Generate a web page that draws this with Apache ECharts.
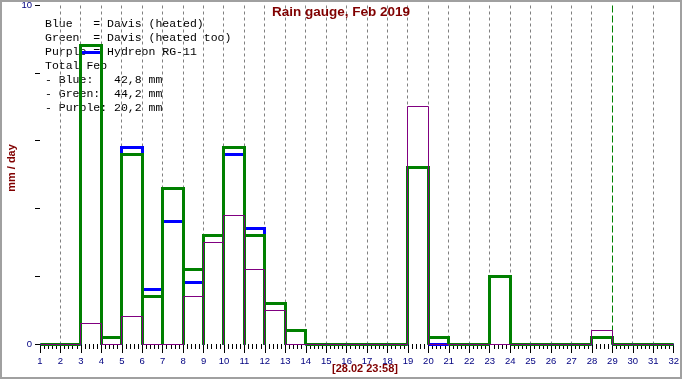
<!DOCTYPE html>
<html>
<head>
<meta charset="utf-8">
<script src="https://cdn.jsdelivr.net/npm/echarts@6/dist/echarts.min.js"></script>
<style>
html,body{margin:0;padding:0;background:#fff;}
#c{width:682px;height:380px;}
</style>
</head>
<body>
<div id="c"></div>
<script>
// ---- data ----
const days = [1,2,3,4,5,6,7,8,9,10,11,12,13,14,15,16,17,18,19,20,21,22,23,24,25,26,27,28,29,30,31];
const blue   = [0,0,8.6,0.2,5.8,1.6,3.6,1.8,3.2,5.6,3.4,1.2,0.4,0,0,0,0,0,5.2,0,0,0,2.0,0,0,0,0,0.2,0,0,0];
const green  = [0,0,8.8,0.2,5.6,1.4,4.6,2.2,3.2,5.8,3.2,1.2,0.4,0,0,0,0,0,5.2,0.2,0,0,2.0,0,0,0,0,0.2,0,0,0];
const purple = [0,0,0.6,0,0.8,0,0,1.4,3.0,3.8,2.2,1.0,0,0,0,0,0,0,7.0,0,0,0,0,0,0,0,0,0.4,0,0,0];
const gridDays = [2,3,4,5,6,7,8,9,10,11,12,13,14,15,16,17,18,19,20,21,22,23,24,25,26,27,28,30,31];
const nowDay = [29];
const yTickLabels = [0, 10];
const titleText = 'Rain gauge, Feb 2019';
const yName = 'mm / day';
const timeLabel = '[28.02 23:58]';
const infoLines = [
  'Blue   = Davis (heated)',
  'Green  = Davis (heated too)',
  'Purple = Hydreon RG-11',
  'Total Feb',
  '- Blue:   42,8 mm',
  '- Green:  44,2 mm',
  '- Purple: 20,2 mm'
];

const chart = echarts.init(document.getElementById('c'), null, {renderer:'canvas'});

function crisp(p, w) {
  const off = (w % 2 === 1) ? 0.5 : 0;
  return [Math.round(p[0] - off) + off, Math.round(p[1] - off) + off];
}

function barSeries(name, values, color, width) {
  return {
    type: 'custom',
    name: name,
    data: days.map((d, i) => [d, values[i]]),
    encode: {x: 0, y: 1},
    clip: false,
    silent: true,
    renderItem: function (params, api) {
      const x0 = api.value(0), v = api.value(1);
      const bl = crisp(api.coord([x0, 0]), width), tl = crisp(api.coord([x0, v]), width);
      const tr = crisp(api.coord([x0 + 1, v]), width), br = crisp(api.coord([x0 + 1, 0]), width);
      const pts = v > 0 ? [bl, tl, tr, br] : [tl, tr];
      return {
        type: 'polyline',
        shape: {points: pts},
        style: {stroke: color, lineWidth: width, fill: null}
      };
    }
  };
}

function vLineSeries(name, list, color, dash) {
  return {
    type: 'custom',
    name: name,
    data: list.map(d => [d, 10]),
    encode: {x: 0, y: 1},
    clip: false,
    silent: true,
    renderItem: function (params, api) {
      const d = api.value(0);
      const top = crisp(api.coord([d, api.value(1)]), 1);
      const bot = crisp(api.coord([d, 0]), 1);
      return {
        type: 'line',
        shape: {x1: top[0], y1: top[1], x2: bot[0], y2: bot[1]},
        style: {stroke: color, lineWidth: 1, lineDash: dash}
      };
    }
  };
}

const sans = "'Liberation Sans',Arial,sans-serif";

const graphics = [
  {type:'rect', shape:{x:1, y:1, width:680, height:377}, style:{fill:null, stroke:'#a0a0a0', lineWidth:2}, z:100, silent:true},
  {type:'text', x:12, y:168, rotation:Math.PI/2, style:{text:yName, font:"bold 11px " + sans, fill:'#800000', align:'center', verticalAlign:'middle'}},
  {type:'text', x:365, y:369, style:{text:timeLabel, font:"bold 11px " + sans, fill:'#800000', align:'center', verticalAlign:'middle'}}
];
infoLines.forEach((t, i) => {
  graphics.push({type:'text', x:45, y:23.5 + i*14.1, style:{text:t, font:"11.5px 'Liberation Mono','Courier New',monospace", fill:'#000', align:'left', verticalAlign:'middle'}, z:-1});
});

const option = {
  animation: false,
  backgroundColor: '#fff',
  title: {
    text: titleText, left: 'center', top: 5, padding: 0,
    textStyle: {fontFamily: sans, fontWeight: 'bold', fontSize: 13.5, color: '#800000'}
  },
  grid: {left: 40, right: 4, top: 5, bottom: 36},
  xAxis: {
    type: 'value', min: 1, max: 32, interval: 1,
    axisLine: {show: false},
    axisTick: {show: true, length: 9, lineStyle: {color: '#000', width: 1}},
    minorTick: {show: true, splitNumber: 5, length: 5, lineStyle: {color: '#000', width: 1}},
    axisLabel: {margin: 12, color: '#000080', fontSize: 9.5, fontFamily: sans},
    splitLine: {show: false}
  },
  yAxis: {
    type: 'value', min: 0, max: 10, interval: 2,
    axisLine: {show: false},
    axisTick: {show: true, length: 5, lineStyle: {color: '#000', width: 1}},
    axisLabel: {margin: 8, color: '#000080', fontSize: 9.5, fontFamily: sans,
      formatter: v => yTickLabels.indexOf(v) >= 0 ? String(v) : ''},
    splitLine: {show: false}
  },
  graphic: graphics,
  series: [
    vLineSeries('grid', gridDays, '#808080', [3, 3]),
    vLineSeries('now', nowDay, '#008000', [7, 3]),
    barSeries('Blue', blue, '#0000ff', 3),
    barSeries('Green', green, '#008000', 3),
    barSeries('Purple', purple, '#800080', 1)
  ]
};
chart.setOption(option);
</script>
</body>
</html>
